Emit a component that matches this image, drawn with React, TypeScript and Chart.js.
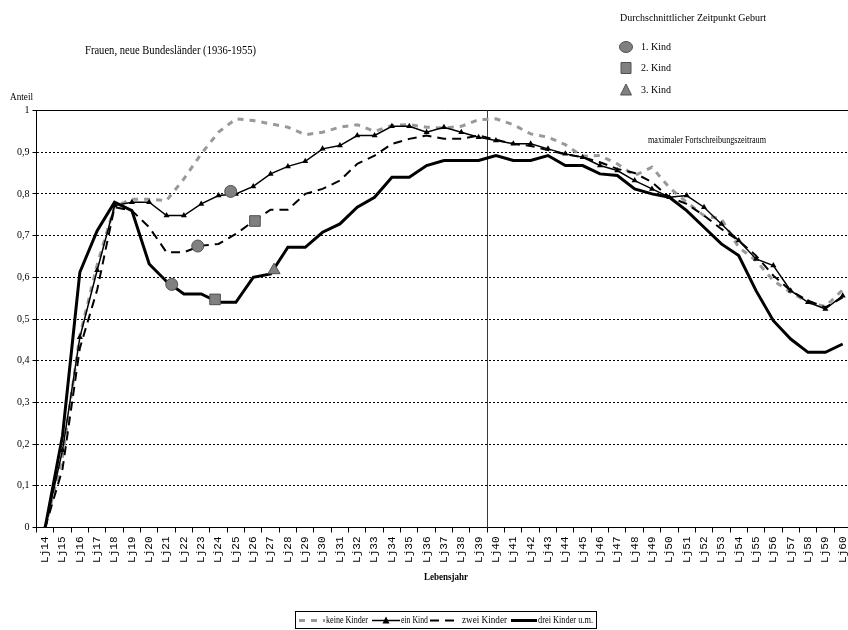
import React, { useEffect, useRef } from "react";
import { Chart, registerables } from "chart.js";

Chart.register(...registerables);

// ---------- data ----------
const categories = [
  "Lj14", "Lj15", "Lj16", "Lj17", "Lj18", "Lj19", "Lj20", "Lj21", "Lj22", "Lj23",
  "Lj24", "Lj25", "Lj26", "Lj27", "Lj28", "Lj29", "Lj30", "Lj31", "Lj32", "Lj33",
  "Lj34", "Lj35", "Lj36", "Lj37", "Lj38", "Lj39", "Lj40", "Lj41", "Lj42", "Lj43",
  "Lj44", "Lj45", "Lj46", "Lj47", "Lj48", "Lj49", "Lj50", "Lj51", "Lj52", "Lj53",
  "Lj54", "Lj55", "Lj56", "Lj57", "Lj58", "Lj59", "Lj60",
];

const keineKinder = [
  0, 0.17, 0.46, 0.63, 0.77, 0.787, 0.787, 0.784, 0.836, 0.896,
  0.948, 0.98, 0.976, 0.968, 0.96, 0.942, 0.948, 0.96, 0.966, 0.95,
  0.964, 0.966, 0.96, 0.958, 0.962, 0.978, 0.98, 0.966, 0.944, 0.936,
  0.918, 0.89, 0.892, 0.872, 0.844, 0.864, 0.815, 0.78, 0.748, 0.74,
  0.672, 0.64, 0.592, 0.564, 0.54, 0.53, 0.57,
];

const einKind = [
  0, 0.185, 0.456, 0.617, 0.772, 0.78, 0.78, 0.748, 0.748, 0.776,
  0.796, 0.8, 0.818, 0.848, 0.866, 0.878, 0.908, 0.916, 0.94, 0.94,
  0.962, 0.962, 0.948, 0.96, 0.948, 0.936, 0.928, 0.92, 0.92, 0.908,
  0.896, 0.888, 0.868, 0.856, 0.832, 0.812, 0.792, 0.796, 0.768, 0.728,
  0.688, 0.644, 0.628, 0.568, 0.54, 0.524, 0.556,
];

const zweiKinder = [
  0, 0.14, 0.43, 0.57, 0.768, 0.76, 0.72, 0.66, 0.66, 0.676,
  0.68, 0.704, 0.734, 0.762, 0.762, 0.8, 0.812, 0.832, 0.872, 0.892,
  0.92, 0.932, 0.94, 0.932, 0.932, 0.94, 0.93, 0.92, 0.915, 0.905,
  0.895, 0.888, 0.876, 0.86, 0.85, 0.828, 0.792, 0.776, 0.748, 0.716,
  0.688, 0.652, 0.604, 0.568, 0.544, 0.528, 0.552,
];

const dreiKinder = [
  0, 0.22, 0.612, 0.712, 0.78, 0.76, 0.632, 0.59, 0.56, 0.56,
  0.54, 0.54, 0.6, 0.608, 0.672, 0.672, 0.708, 0.728, 0.768, 0.792,
  0.84, 0.84, 0.868, 0.88, 0.88, 0.88, 0.892, 0.88, 0.88, 0.892,
  0.868, 0.868, 0.848, 0.844, 0.812, 0.8, 0.792, 0.76, 0.72, 0.68,
  0.652, 0.568, 0.496, 0.452, 0.42, 0.42, 0.44,
];

// average age at birth (Lebensjahr) and share, per child order
const kind1Ages = [24.7, 22.8, 21.3];
const kind1Values = [0.806, 0.675, 0.583];
const kind2Ages = [26.1, 23.8];
const kind2Values = [0.735, 0.547];
const kind3Ages = [27.2];
const kind3Values = [0.617];

const seriesNames = ["keine Kinder", "ein Kind", "zwei Kinder", "drei Kinder u.m."];
const markerNames = ["1. Kind", "2. Kind", "3. Kind"];

const yMin = 0;
const yMax = 1;
const yStep = 0.1;

// ---------- helpers ----------
const SERIF = "'Liberation Serif', 'Times New Roman', serif";

function fmtY(v: number | string) {
  const r = Math.round(Number(v) * 10) / 10;
  return String(r).replace(".", ",");
}

function drawMarker(ctx: CanvasRenderingContext2D, shape: string, x: number, y: number) {
  ctx.save();
  ctx.fillStyle = "#808080";
  ctx.strokeStyle = "#505050";
  ctx.lineWidth = 1;
  ctx.beginPath();
  if (shape === "circle") {
    ctx.ellipse(x, y, 6.5, 5.5, 0, 0, Math.PI * 2);
  } else if (shape === "rect") {
    ctx.rect(x - 5, y - 5.5, 10, 11);
  } else {
    ctx.moveTo(x, y - 6);
    ctx.lineTo(x + 5.5, y + 5);
    ctx.lineTo(x - 5.5, y + 5);
    ctx.closePath();
  }
  ctx.fill();
  ctx.stroke();
  ctx.restore();
}

function text(
  ctx: CanvasRenderingContext2D,
  s: string,
  x: number,
  y: number,
  font: string,
  maxWidth?: number,
  align: CanvasTextAlign = "left"
) {
  ctx.save();
  ctx.font = font;
  ctx.fillStyle = "#000";
  ctx.textAlign = align;
  ctx.textBaseline = "middle";
  if (maxWidth) ctx.fillText(s, x, y, maxWidth);
  else ctx.fillText(s, x, y);
  ctx.restore();
}

const decorPlugin = {
  id: "decor",
  beforeDatasetsDraw(chart: any) {
    const { ctx, chartArea, scales } = chart;
    const xs = scales.x;
    const xv = (xs.getPixelForValue(25) + xs.getPixelForValue(26)) / 2;
    const px = Math.round(xv) + 0.5;
    ctx.save();
    ctx.strokeStyle = "#3a3a3a";
    ctx.lineWidth = 1;
    ctx.beginPath();
    ctx.moveTo(px, chartArea.top);
    ctx.lineTo(px, chartArea.bottom);
    ctx.stroke();
    ctx.restore();
  },
  afterDraw(chart: any) {
    const ctx: CanvasRenderingContext2D = chart.ctx;
    // title
    text(ctx, "Frauen, neue Bundesländer (1936-1955)", 85, 51, `13px ${SERIF}`, 171);
    // axis captions
    text(ctx, "Anteil", 10, 97, `10px ${SERIF}`, 23);
    text(ctx, "Lebensjahr", 446, 577, `bold 11px ${SERIF}`, 44, "center");
    text(ctx, "maximaler Fortschreibungszeitraum", 648, 140, `10px ${SERIF}`, 118);

    // top-right marker legend
    text(ctx, "Durchschnittlicher Zeitpunkt Geburt", 620, 18, `10px ${SERIF}`, 151);
    const shapes = ["circle", "rect", "triangle"];
    const ys = [47, 68, 90];
    shapes.forEach((sh, i) => {
      drawMarker(ctx, sh, 626, ys[i]);
      text(ctx, markerNames[i], 641, ys[i], `10px ${SERIF}`, 30);
    });

    // bottom legend
    const boxL = 295.5, boxT = 611.5, boxW = 301, boxH = 17;
    ctx.save();
    ctx.strokeStyle = "#000";
    ctx.lineWidth = 1;
    ctx.strokeRect(boxL, boxT, boxW, boxH);
    ctx.restore();
    const cy = boxT + boxH / 2 + 0.5;
    const samples = [
      { x1: 299, x2: 325, tx: 326, tw: 42 },
      { x1: 372, x2: 400, tx: 401, tw: 27 },
      { x1: 430, x2: 460, tx: 462, tw: 45 },
      { x1: 511, x2: 537, tx: 538, tw: 55 },
    ];
    samples.forEach((s, i) => {
      const ds = chart.data.datasets[i];
      ctx.save();
      ctx.strokeStyle = ds.borderColor;
      ctx.lineWidth = ds.borderWidth;
      ctx.setLineDash(ds.borderDash || []);
      ctx.beginPath();
      ctx.moveTo(s.x1, cy);
      ctx.lineTo(s.x2, cy);
      ctx.stroke();
      ctx.restore();
      if (ds.pointStyle === "triangle") {
        ctx.save();
        ctx.fillStyle = "#000";
        const mx = (s.x1 + s.x2) / 2;
        ctx.beginPath();
        ctx.moveTo(mx, cy - 4);
        ctx.lineTo(mx + 3.5, cy + 3);
        ctx.lineTo(mx - 3.5, cy + 3);
        ctx.closePath();
        ctx.fill();
        ctx.restore();
      }
      text(ctx, seriesNames[i], s.tx, cy, `10px ${SERIF}`, s.tw);
    });
  },
};

// ---------- component ----------
export default function App() {
  const ref = useRef<HTMLCanvasElement>(null);

  useEffect(() => {
    if (!ref.current) return;
    const toPts = (ages: number[], vals: number[]) => ages.map((a, i) => ({ x: a, y: vals[i] }));

    const chart = new Chart(ref.current, {
      type: "line",
      data: {
        labels: categories,
        datasets: [
          {
            label: seriesNames[0],
            data: keineKinder,
            xAxisID: "x",
            borderColor: "#999999",
            borderWidth: 3,
            borderDash: [6, 6],
            pointRadius: 0,
            tension: 0,
            order: 5,
          },
          {
            label: seriesNames[1],
            data: einKind,
            xAxisID: "x",
            borderColor: "#000000",
            borderWidth: 1.5,
            pointStyle: "triangle",
            pointRadius: 3.5,
            pointBackgroundColor: "#000",
            pointBorderColor: "#000",
            pointBorderWidth: 0,
            tension: 0,
            order: 2,
          },
          {
            label: seriesNames[2],
            data: zweiKinder,
            xAxisID: "x",
            borderColor: "#000000",
            borderWidth: 2,
            borderDash: [9, 6],
            pointRadius: 0,
            tension: 0,
            order: 3,
          },
          {
            label: seriesNames[3],
            data: dreiKinder,
            xAxisID: "x",
            borderColor: "#000000",
            borderWidth: 3,
            pointRadius: 0,
            tension: 0,
            order: 4,
          },
          {
            label: markerNames[0],
            data: toPts(kind1Ages, kind1Values),
            xAxisID: "xm",
            showLine: false,
            pointStyle: "circle",
            pointRadius: 6,
            pointBackgroundColor: "#808080",
            pointBorderColor: "#505050",
            pointBorderWidth: 1,
            order: 0,
          },
          {
            label: markerNames[1],
            data: toPts(kind2Ages, kind2Values),
            xAxisID: "xm",
            showLine: false,
            pointStyle: "rect",
            pointRadius: 7.5,
            pointBackgroundColor: "#808080",
            pointBorderColor: "#505050",
            pointBorderWidth: 1,
            order: 0,
          },
          {
            label: markerNames[2],
            data: toPts(kind3Ages, kind3Values),
            xAxisID: "xm",
            showLine: false,
            pointStyle: "triangle",
            pointRadius: 7,
            pointBackgroundColor: "#808080",
            pointBorderColor: "#505050",
            pointBorderWidth: 1,
            order: 0,
          },
        ] as any,
      },
      options: {
        responsive: false,
        animation: false,
        devicePixelRatio: 1,
        layout: { padding: { left: 0, top: 110.5, right: 5.7, bottom: 52.5 } },
        plugins: {
          legend: { display: false },
          tooltip: { enabled: false },
          title: { display: false },
        },
        scales: {
          x: {
            type: "category",
            position: "bottom",
            offset: true,
            grid: {
              offset: true,
              drawOnChartArea: false,
              drawTicks: true,
              tickLength: 5,
              color: "#000",
              lineWidth: 1,
            },
            border: { display: true, color: "#000", width: 1 },
            ticks: {
              autoSkip: false,
              minRotation: 90,
              maxRotation: 90,
              padding: 4,
              color: "#000",
              font: { family: "'Liberation Mono', 'DejaVu Sans Mono', monospace", size: 11 },
            },
            afterFit: (s: any) => {
              s.height = 50;
            },
          },
          xm: {
            type: "linear",
            display: false,
            min: 13.5,
            max: 60.5,
          },
          y: {
            type: "linear",
            min: yMin,
            max: yMax,
            ticks: {
              stepSize: yStep,
              padding: 3,
              color: "#000",
              font: { family: SERIF, size: 10 },
              callback: (v: any) => fmtY(v),
            },
            grid: { color: "#000", lineWidth: 1, tickLength: 4, drawTicks: true },
            border: {
              display: true,
              color: "#000",
              width: 1,
              dash: (c: any) => (c.tick && c.tick.value >= 0.999 ? [] : [2, 2]),
            },
            afterFit: (s: any) => {
              s.width = 36.5;
            },
          },
        } as any,
      },
      plugins: [decorPlugin],
    });
    return () => chart.destroy();
  }, []);

  return (
    <div
      style={{
        position: "fixed",
        left: 0,
        top: 0,
        width: 848,
        height: 630,
        overflow: "hidden",
        background: "#fff",
      }}
    >
      <canvas ref={ref} width={860} height={630} style={{ display: "block", width: 860, height: 630 }} />
    </div>
  );
}
